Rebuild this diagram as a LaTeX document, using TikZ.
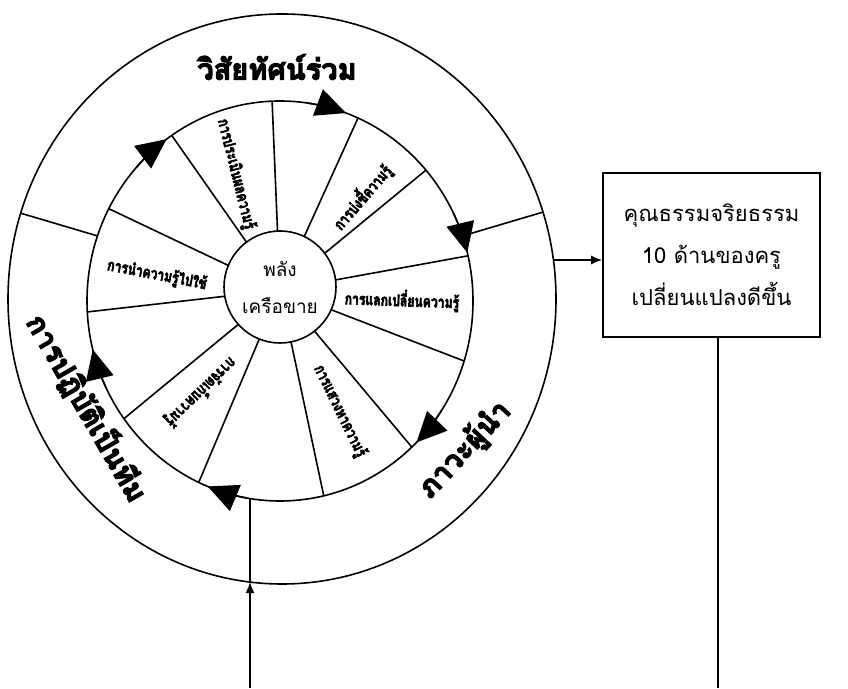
\documentclass[tikz,border=0pt]{standalone}
\usepackage{fontspec}
\newfontfamily\thai[Script=Thai]{Loma}
\newfontfamily\thaiheavy[Script=Thai, FakeBold=4]{Loma}
\newfontfamily\thaitight[Script=Thai, FakeBold=3.5, FakeStretch=0.76]{Loma}
\usetikzlibrary{positioning,arrows.meta}

\begin{document}
\begin{tikzpicture}[x=1pt, y=1pt, line width=1.6pt,
        box/.style={draw, align=center, minimum width=217pt, minimum height=164pt, font=\thai\fontsize{22}{42}\selectfont},
        hub/.style={draw, circle, fill=white, minimum size=112pt, inner sep=0pt, align=center, font=\thai\fontsize{19}{37}\selectfont},
        rim/.style={font=\thaiheavy\bfseries\fontsize{29}{30}\selectfont, inner sep=0pt},
        spoke/.style={font=\thaitight\bfseries\fontsize{16}{16}\selectfont, inner sep=0pt},
        flow/.style={-{Triangle[length=30pt,width=28pt]}}
    ]
    \useasboundingbox (0,0) rectangle (848,688);
    \coordinate (hubc) at (280,398);
    \coordinate (ringc) at (280,387);
    \coordinate (outc) at (282,389);

    \begin{scope}
        \clip (outc) ellipse [x radius=274, y radius=285];
        \draw (hubc) -- ++(163.5:320);
        \draw (hubc) -- ++(16.5:320);
        \draw (250,100) -- (250,200);
    \end{scope}
    \draw (outc) ellipse [x radius=274, y radius=285];
    \draw[fill=white] (ringc) ellipse [x radius=193, y radius=200];
    \begin{scope}
        \clip (ringc) ellipse [x radius=193, y radius=200];
        \foreach \a in {92.4,65.6,39.4,10.3,-21.1,-50,-78,-112.9,-140.5,-173.5,154.6,125}
            \draw (hubc) -- ++(\a:260);
    \end{scope}
    \foreach \a in {70,14,-45,-112,-166,126}
        \draw[flow] (ringc) ++(\a+12:193 and 200) arc[start angle=\a+12, end angle=\a, x radius=193, y radius=200];

    \node[hub] (hub) at ([yshift=3pt]hubc) {พลัง\\เครือขาย};

    \node[rim] (vision) at (277,621) {วิสัยทัศน์ร่วม};
    \node[rim, rotate=47] (lead) at (465,238) {ภาวะผู้นำ};
    \node[rim, rotate=-60] (team) at (87,280) {การปฏิบัติเป็นทีม};

    \node[spoke, rotate=-76] (assess) at (236,514) {การประเมินผลความรู้};
    \node[spoke, rotate=49] (identify) at (362,491) {การบ่งชี้ความรู้};
    \node[spoke, rotate=-2] (share) at (402,388) {การแลกเปลี่ยนความรู้};
    \node[spoke, rotate=-64] (seek) at (340,277) {การแสวงหาความรู้};
    \node[spoke, rotate=-136] (store) at (201,296) {การจัดเก็บความรู้};
    \node[spoke, rotate=-11] (apply) at (157,413) {การนำความรู้ไปใช้};

    \node[box] (ethics) at (711.5,433) {คุณธรรมจริยธรรม\\10 ด้านของครู\\เปลี่ยนแปลงดีขึ้น};

    \coordinate (bandout) at (554,428);
    \coordinate (down) at (718,0);
    \coordinate (up) at (250,0);
    \coordinate (bandlow) at (250,106);
    \draw[-{Latex[length=11pt,width=9pt]}] (bandout) -- (bandout -| ethics.west);
    \draw (ethics.south -| down) -- (down);
    \draw[-{Latex[length=11pt,width=9pt]}] (up) -- (bandlow);
\end{tikzpicture}
\end{document}
